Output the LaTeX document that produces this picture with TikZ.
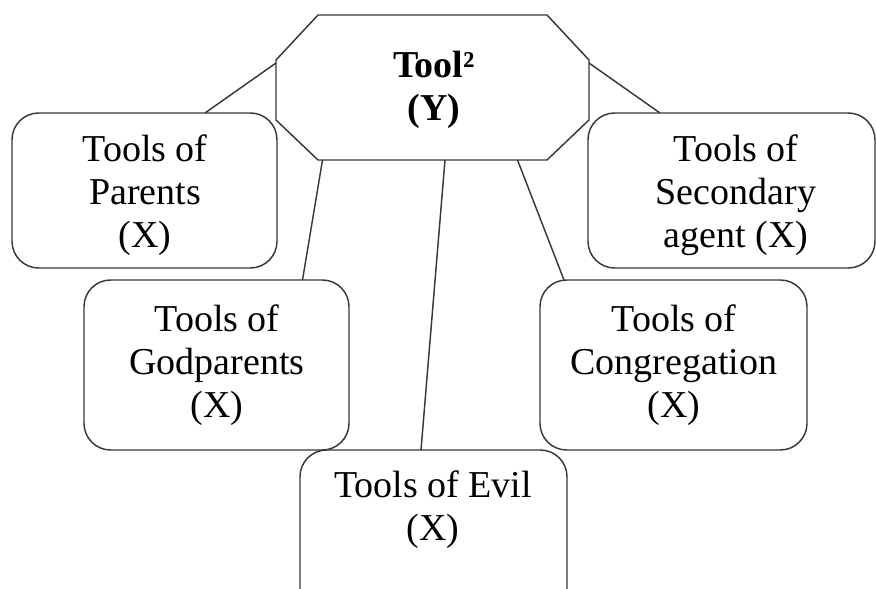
\documentclass[tikz,border=0pt]{standalone}
\usepackage{fontspec}
\setmainfont{Liberation Serif}
\usetikzlibrary{calc}

\tikzset{
  edge/.style={draw=black!78, line width=1.1pt},
  card/.style={edge, fill=white, rounded corners=20pt, inner sep=0pt, outer sep=0pt},
  frame/.style={inner sep=0pt, outer sep=0pt, minimum width=234.75pt, minimum height=108.75pt},
  lbl/.style={align=center, inner sep=0pt, anchor=base,
    font=\fontsize{28.5pt}{32pt}\selectfont},
  link/.style={draw=black!78, line width=1.1pt},
}

\begin{document}
\begin{tikzpicture}[x=0.75pt, y=-0.75pt]
  \useasboundingbox (0,0) rectangle (876,589);
  \clip (0,0) rectangle (876,589);

  % central element: an octagon built on the frame of node oct
  \node[frame] (oct) at (432.5,87.5) {};
  \draw[edge, fill=white, line join=miter]
    ($(oct.north west)+(42,0)$) -- ($(oct.north east)+(-42,0)$)
    -- ($(oct.north east)+(0,45)$) -- ($(oct.south east)+(0,-40)$)
    -- ($(oct.south east)+(-42,0)$) -- ($(oct.south west)+(42,0)$)
    -- ($(oct.south west)+(0,-40)$) -- ($(oct.north west)+(0,45)$) -- cycle;

  % surrounding elements
  \node[card, minimum width=198.75pt, minimum height=116.25pt] (par) at (144.5,190.5) {};
  \node[card, minimum width=215.25pt, minimum height=116.25pt] (sec) at (731.5,190.5) {};
  \node[card, minimum width=198.75pt, minimum height=127.5pt] (god) at (216.5,365) {};
  \node[card, minimum width=200.25pt, minimum height=127.5pt] (con) at (673.5,365) {};
  \node[card, minimum width=200.25pt, minimum height=127.5pt] (evil) at (433.5,535) {};

  % connectors from the centre to each element
  \draw[link] ($(oct.west)+(0,-24.5)$) -- ($(par.north)+(60.5,0)$);
  \draw[link] ($(oct.east)+(0,-24.5)$) -- ($(sec.north)+(-71.5,0)$);
  \draw[link] ($(oct.south)+(-110,0)$) -- ($(god.north)+(86,0)$);
  \draw[link] ($(oct.south)+(12.5,0)$) -- ($(evil.north)+(-12.5,0)$);
  \draw[link] ($(oct.south)+(85,0)$) -- ($(con.north)+(-109.5,0)$);

  % labels (anchored on the baseline of their last line)
  \node[lbl, font=\fontsize{28.5pt}{32pt}\selectfont\bfseries] (octT) at (434,120) {Tool²\\(Y)};
  \node[lbl] (parT) at (145,247) {Tools of\\Parents\\(X)};
  \node[lbl] (secT) at (736,247) {Tools of\\Secondary\\agent (X)};
  \node[lbl] (godT) at (217,417) {Tools of\\Godparents\\(X)};
  \node[lbl] (conT) at (674,417) {Tools of\\Congregation\\(X)};
  \node[lbl] (evilT) at (433,540) {Tools of Evil\\(X)};
\end{tikzpicture}
\end{document}
